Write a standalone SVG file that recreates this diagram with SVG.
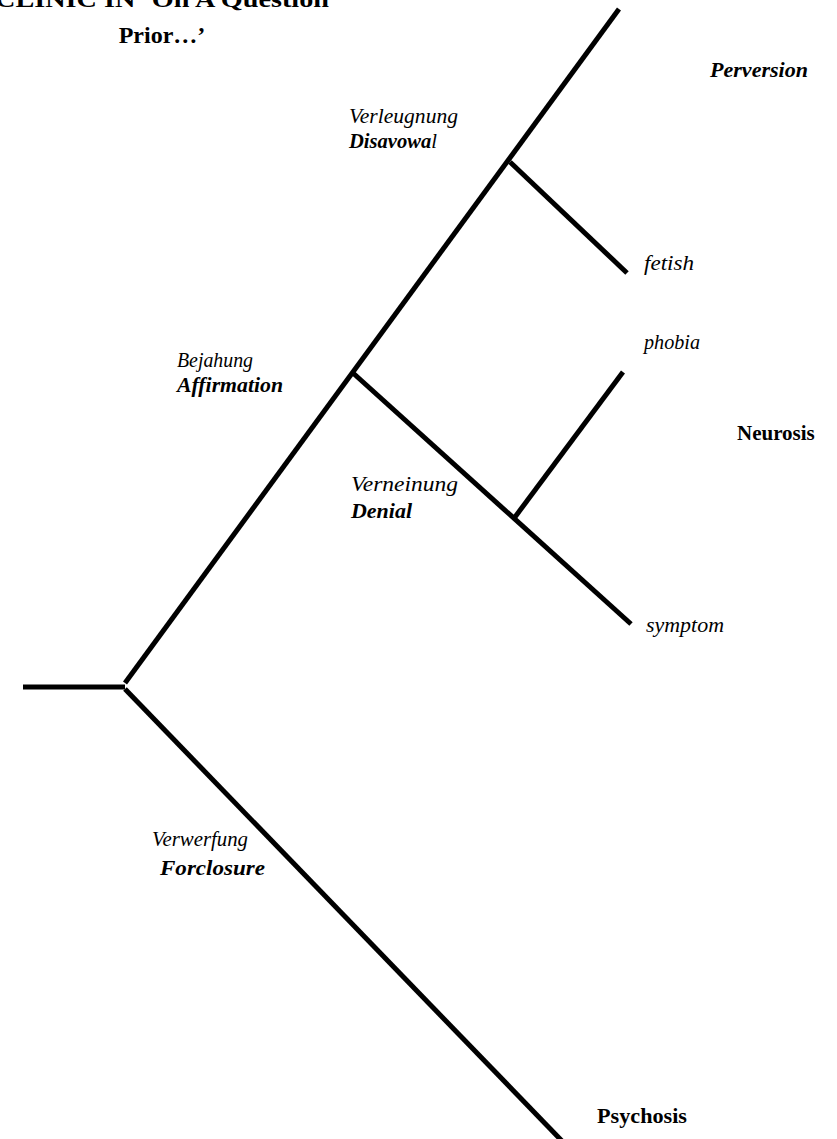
<svg xmlns="http://www.w3.org/2000/svg" width="837" height="1139" viewBox="0 0 837 1139">
<style>
text{font-family:"Liberation Serif","Times New Roman",serif;fill:#000}
.t{font-size:24px;font-weight:bold;text-anchor:middle}
.de{font-size:20px;font-style:italic}
.en{font-size:20px;font-style:italic;font-weight:bold}
.lab{font-size:20px;font-style:italic}
.cat{font-size:21px;font-weight:bold}
.ln{stroke:#000;stroke-width:5;fill:none;stroke-linecap:butt}
</style>
<rect width="837" height="1139" fill="#fff"/>
<g id="title">
<text class="t" x="162" y="7" textLength="334" lengthAdjust="spacingAndGlyphs">CLINIC IN ‘On A Question</text>
<text class="t" x="162" y="43">Prior…’</text>
</g>
<g id="connectors">
<line class="ln" x1="23" y1="687" x2="125" y2="687"/>
<line class="ln" x1="125" y1="683" x2="619" y2="9"/>
<line class="ln" x1="125" y1="689" x2="562" y2="1141"/>
<line class="ln" x1="510" y1="162" x2="627" y2="273"/>
<line class="ln" x1="353" y1="373" x2="631" y2="624"/>
<line class="ln" x1="515" y1="517" x2="623" y2="372"/>
</g>
<g id="disavowal">
<text class="de" x="349" y="123" textLength="109" lengthAdjust="spacingAndGlyphs">Verleugnung</text>
<text class="en" x="349" y="148" textLength="88" lengthAdjust="spacingAndGlyphs">Disavowa<tspan font-weight="normal">l</tspan></text>
</g>
<g id="affirmation">
<text class="de" x="177" y="367" textLength="76" lengthAdjust="spacingAndGlyphs">Bejahung</text>
<text class="en" x="177" y="392" textLength="106" lengthAdjust="spacingAndGlyphs">Affirmation</text>
</g>
<g id="denial">
<text class="de" x="351" y="491" textLength="107" lengthAdjust="spacingAndGlyphs">Verneinung</text>
<text class="en" x="351" y="518" textLength="61" lengthAdjust="spacingAndGlyphs">Denial</text>
</g>
<g id="forclosure">
<text class="de" x="152" y="846" textLength="96" lengthAdjust="spacingAndGlyphs">Verwerfung</text>
<text class="en" x="160" y="875" textLength="105" lengthAdjust="spacingAndGlyphs">Forclosure</text>
</g>
<g id="perversion">
<text class="cat" font-style="italic" x="710" y="77" textLength="98" lengthAdjust="spacingAndGlyphs">Perversion</text>
</g>
<g id="fetish"><text class="lab" x="644" y="270" textLength="50" lengthAdjust="spacingAndGlyphs">fetish</text></g>
<g id="phobia"><text class="lab" x="644" y="349" textLength="56" lengthAdjust="spacingAndGlyphs">phobia</text></g>
<g id="neurosis"><text class="cat" x="737" y="440">Neurosis</text></g>
<g id="symptom"><text class="lab" x="646" y="632" textLength="78" lengthAdjust="spacingAndGlyphs">symptom</text></g>
<g id="psychosis"><text class="cat" x="597" y="1123" textLength="90" lengthAdjust="spacingAndGlyphs">Psychosis</text></g>
</svg>
